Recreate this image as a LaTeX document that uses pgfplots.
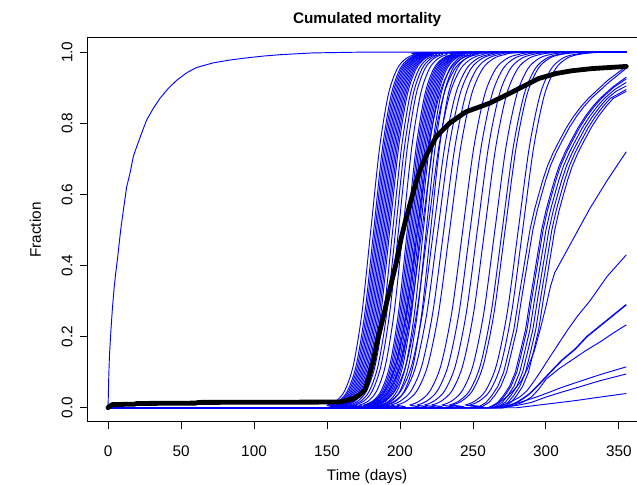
\documentclass[border=0pt]{standalone}
\usepackage{fontspec}
\setmainfont{Liberation Sans}
\usepackage{pgfplots}
\pgfplotsset{compat=1.18}
\usepackage{pgfplotstable}
\usetikzlibrary{calc}

% steep runs, value v reached at day x<m>
\pgfplotstableread{
v x180 x182 x183 x184 x185 x186 x187 x188 x189 x190 x191 x192 x193 x195 x197 x199 x202 x205 x206 x207 x208 x209 x210 x211 x212 x213 x214 x216 x218 x221
0 0 0 0 0 0 0 0 0 0 0 0 0 0 0 0 0 0 0 0 0 0 0 0 0 0 0 0 0 0 0
0 144 146 147 148 149 150 151 152 153 154 155 156 157 159 161 163 166 169 170 171 172 173 174 175 176 177 178 180 182 185
0.007 150 152 153 154 155 156 157 158 159 160 161 162 163 165 167 169 172 175 176 177 178 179 180 181 182 183 184 186 188 191
0.018 156 158 159 160 161 162 163 164 165 166 167 168 169 171 173 175 178 181 182 183 184 185 186 187 188 189 190 192 194 197
0.047 162 164 165 166 167 168 169 170 171 172 173 174 175 177 179 181 184 187 188 189 190 191 192 193 194 195 196 198 200 203
0.119 168 170 171 172 173 174 175 176 177 178 179 180 181 183 185 187 190 193 194 195 196 197 198 199 200 201 202 204 206 209
0.269 174 176 177 178 179 180 181 182 183 184 185 186 187 189 191 193 196 199 200 201 202 203 204 205 206 207 208 210 212 215
0.5 180 182 183 184 185 186 187 188 189 190 191 192 193 195 197 199 202 205 206 207 208 209 210 211 212 213 214 216 218 221
0.731 186 188 189 190 191 192 193 194 195 196 197 198 199 201 203 205 208 211 212 213 214 215 216 217 218 219 220 222 224 227
0.881 192 194 195 196 197 198 199 200 201 202 203 204 205 207 209 211 214 217 218 219 220 221 222 223 224 225 226 228 230 233
0.953 198 200 201 202 203 204 205 206 207 208 209 210 211 213 215 217 220 223 224 225 226 227 228 229 230 231 232 234 236 239
0.982 204 206 207 208 209 210 211 212 213 214 215 216 217 219 221 223 226 229 230 231 232 233 234 235 236 237 238 240 242 245
0.993 210 212 213 214 215 216 217 218 219 220 221 222 223 225 227 229 232 235 236 237 238 239 240 241 242 243 244 246 248 251
0.999 220 222 223 224 225 226 227 228 229 230 231 232 233 235 237 239 242 245 246 247 248 249 250 251 252 253 254 256 258 261
1 355 355 355 355 355 355 355 355 355 355 355 355 355 355 355 355 355 355 355 355 355 355 355 355 355 355 355 355 355 355
}\steep

% slower runs
\pgfplotstableread{
v x212 x215 x219 x223 x226 x230 x234 x243 x248 x253 x258 x265 x270 x272 x281 x284
0 0 0 0 0 0 0 0 0 0 0 0 0 0 0 0 0
0 167 170 174 178 181 185 189 198 203 208 213 220 225 227 236 239
0.008 176 179 183 187 190 194 198 207 212 217 222 229 234 236 245 248
0.018 182 185 189 193 196 200 204 213 218 223 228 235 240 242 251 254
0.047 189.5 192.5 196.5 200.5 203.5 207.5 211.5 220.5 225.5 230.5 235.5 242.5 247.5 249.5 258.5 261.5
0.119 197 200 204 208 211 215 219 228 233 238 243 250 255 257 266 269
0.269 204.5 207.5 211.5 215.5 218.5 222.5 226.5 235.5 240.5 245.5 250.5 257.5 262.5 264.5 273.5 276.5
0.5 212 215 219 223 226 230 234 243 248 253 258 265 270 272 281 284
0.731 219.5 222.5 226.5 230.5 233.5 237.5 241.5 250.5 255.5 260.5 265.5 272.5 277.5 279.5 288.5 291.5
0.881 227 230 234 238 241 245 249 258 263 268 273 280 285 287 296 299
0.953 234.5 237.5 241.5 245.5 248.5 252.5 256.5 265.5 270.5 275.5 280.5 287.5 292.5 294.5 303.5 306.5
0.982 242 245 249 253 256 260 264 273 278 283 288 295 300 302 311 314
0.993 249.5 252.5 256.5 260.5 263.5 267.5 271.5 280.5 285.5 290.5 295.5 302.5 307.5 309.5 318.5 321.5
0.999 262 265 269 273 276 280 284 293 298 303 308 315 320 322 331 334
1 355 355 355 355 355 355 355 355 355 355 355 355 355 355 355 355
}\later

\pgfplotsset{
  run/.style={blue, line width=0.7pt},
  srun/.style={run, smooth, tension=0.5},
}

\begin{document}
\begin{tikzpicture}
\begin{axis}[
  name=ax, scale only axis,
  width=419.8pt, height=288pt,
  xmin=-14.2, xmax=369.2, ymin=-0.04, ymax=1.04,
  xtick={0,50,...,350}, ytick={0,0.2,0.4,0.6,0.8,1},
  tick align=outside, major tick length=5.5pt,
  xtick pos=left, ytick pos=left,
  axis line style={line width=0.75pt},
  every tick/.style={black, line width=0.75pt},
  tick label style={font=\fontsize{11.5}{13}\selectfont},
  /pgf/number format/assume math mode=true,
  xticklabel style={yshift=-8.5pt},
  yticklabel style={/pgf/number format/.cd, fixed, fixed zerofill, precision=1, /tikz/.cd, rotate=90, anchor=south, yshift=2pt},
  title={Cumulated mortality},
  title style={font=\bfseries\fontsize{11.5}{13}\selectfont, at={(0.5,1)}, anchor=center, yshift=7.5pt},
  xlabel={Time (days)},
  xlabel style={font=\fontsize{11.5}{13}\selectfont, at={(0.5,0)}, anchor=center, yshift=-41pt},
  ylabel={Fraction},
  ylabel style={font=\fontsize{11.5}{13}\selectfont, at={(0,0.5)}, anchor=center, yshift=39pt},
]
\pgfplotsinvokeforeach{180,182,183,184,185,186,187,188,189,190,191,192,193,195,197,199,202,205,206,207,208,209,210,211,212,213,214,216,218,221}{
  \addplot[srun] table[x=x#1, y=v] {\steep};
}
\pgfplotsinvokeforeach{212,215,219,223,226,230,234,243,248,253,258,265,270,272,281,284}{
  \addplot[srun] table[x=x#1, y=v] {\later};
}
% slow saturating runs
\addplot[run] coordinates {(0,0)(253,0)(259,.015)(263,.035)(267,.06)(271,.1)(274,.15)(278,.22)(281,.3)(285,.4)(289,.5)(292,.555)(295,.6)(298,.643)(301,.68)(305,.718)(309,.75)(314,.788)(319,.82)(324,.847)(329,.87)(342,.92)(355,.96)};
\addplot[run] coordinates {(0,0)(255,0)(261,.015)(265,.035)(269,.06)(273,.1)(276,.15)(280,.22)(283,.3)(287,.4)(291,.5)(294,.555)(297,.6)(300,.643)(303,.68)(307,.718)(311,.75)(316,.788)(321,.82)(326,.847)(331,.87)(343,.915)(355,.955)};
\addplot[run] coordinates {(0,0)(261,0)(267,.015)(271,.035)(275,.06)(279,.1)(282,.15)(286,.22)(289,.3)(293,.4)(297,.5)(300,.555)(303,.6)(306,.643)(309,.68)(313,.718)(317,.75)(322,.788)(327,.82)(332,.847)(337,.87)(346,.903)(355,.93)};
\addplot[run] coordinates {(0,0)(262,0)(268,.015)(272,.035)(276,.06)(280,.1)(283,.15)(287,.22)(290,.3)(294,.4)(298,.5)(301,.555)(304,.6)(307,.643)(310,.68)(314,.718)(318,.75)(323,.788)(328,.82)(333,.847)(338,.87)(346,.9)(355,.925)};
\addplot[run] coordinates {(0,0)(264,0)(270,.015)(274,.035)(278,.06)(282,.1)(285,.15)(289,.22)(292,.3)(296,.4)(300,.5)(303,.555)(306,.6)(309,.643)(312,.68)(316,.718)(320,.75)(325,.788)(330,.82)(335,.847)(340,.87)(347,.895)(355,.915)};
\addplot[run] coordinates {(0,0)(266,0)(272,.015)(276,.035)(280,.06)(284,.1)(287,.15)(291,.22)(294,.3)(298,.4)(302,.5)(305,.555)(308,.6)(311,.643)(314,.68)(318,.718)(322,.75)(327,.788)(332,.82)(337,.847)(342,.87)(348,.89)(355,.905)};
\addplot[run] coordinates {(0,0)(268,0)(274,.015)(278,.035)(282,.06)(286,.1)(289,.15)(293,.22)(296,.3)(300,.4)(304,.5)(307,.555)(310,.6)(313,.643)(316,.68)(320,.718)(324,.75)(329,.788)(334,.82)(339,.847)(344,.87)(355,.895)};
\addplot[run] coordinates {(0,0)(270,0)(276,.015)(280,.035)(284,.06)(288,.1)(291,.15)(295,.22)(298,.3)(302,.4)(306,.5)(309,.555)(312,.6)(315,.643)(318,.68)(322,.718)(326,.75)(331,.788)(336,.82)(341,.847)(346,.87)(355,.89)};
% unfinished runs
\addplot[run] coordinates {(0,0)(260,0)(264,.006)(268,.015)(273,.03)(278,.05)(283,.075)(287,.107)(292,.16)(296,.22)(300,.285)(303,.34)(306,.38)(310,.41)(318,.47)(330,.56)(342,.64)(355,.72)};
\addplot[run] coordinates {(0,0)(262,0)(267,.004)(272,.01)(277,.019)(282,.03)(287,.048)(291,.07)(296,.1)(300,.126)(307,.17)(315,.22)(322,.26)(330,.30)(342,.37)(355,.43)};
\addplot[run, line width=1.1pt] coordinates {(0,0)(270,0)(275,.006)(280,.015)(285,.028)(289,.04)(295,.065)(303,.10)(311,.134)(320,.165)(328,.2)(337,.23)(346,.26)(355,.29)};
\addplot[run] coordinates {(0,0)(270,0)(276,.005)(282,.012)(286,.02)(290,.03)(295,.052)(300,.08)(309,.11)(318,.135)(327,.16)(337,.185)(346,.21)(355,.233)};
\addplot[run] coordinates {(0,0)(265,0)(275,.008)(282,.015)(292,.028)(300,.04)(310,.056)(320,.07)(337,.093)(355,.115)};
\addplot[run] coordinates {(0,0)(270,0)(282,.008)(290,.015)(300,.03)(310,.043)(320,.055)(337,.076)(355,.095)};
\addplot[run] coordinates {(0,0)(280,0)(300,.01)(320,.02)(337,.03)(355,.04)};
% early run
\addplot[run] coordinates {(0,0)(0.5,.09)(1,.15)(2,.22)(3,.28)(4,.33)(5,.37)(6.5,.42)(8.65,.5)(10.5,.556)(12.8,.622)(15,.659)(17.3,.706)(19.6,.734)(23,.772)(26.4,.809)(31,.842)(35.5,.87)(41.2,.898)(47,.921)(53.8,.942)(60.6,.957)(72,.97)(83.4,.978)(94.8,.984)(106,.989)(117.6,.993)(140,.998)(170,1)(355,1)};
% mean
\addplot[black, line width=3.6pt, line join=round, line cap=round] coordinates {
(0,0)(1,.004)(3,.009)(18,.010)(20,.012)(60,.013)(62,.015)(158,.016)(163,.02)(168,.026)(172,.035)(176,.05)(179,.09)(181.6,.13)(184,.18)(187,.23)(190.5,.29)(194,.35)(197,.40)(201,.48)(204,.53)(208,.59)(211,.635)(214,.672)(218,.71)(224.7,.762)(233.8,.80)(245,.832)(261,.856)(272.5,.879)(284,.903)(295,.926)(306.7,.94)(318,.948)(331.7,.954)(355,.96)};
\end{axis}
\pgfresetboundingbox
\useasboundingbox ($(ax.south west)+(-65.5pt,-47.25pt)$) rectangle ($(ax.north east)+(-7.5pt,28.5pt)$);
\end{tikzpicture}
\end{document}
